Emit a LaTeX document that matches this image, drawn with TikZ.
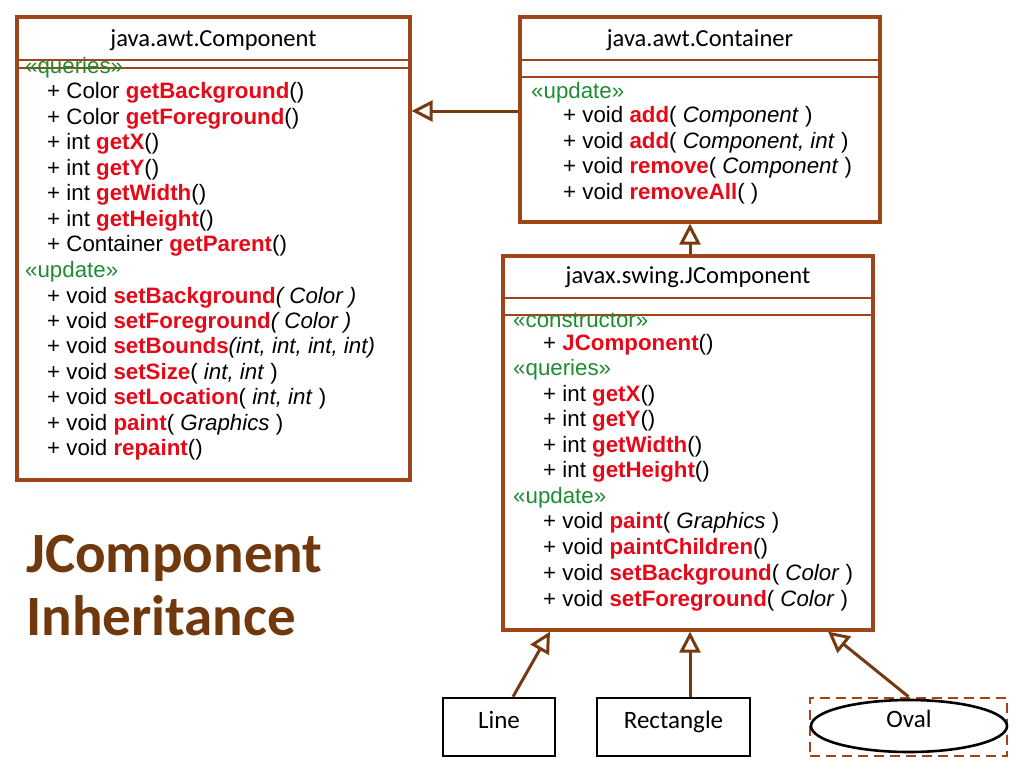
\documentclass[tikz,border=0pt]{standalone}
\usepackage{fontspec}
\setmainfont{Liberation Sans}
\newfontfamily\calib{Carlito}
\usetikzlibrary{arrows.meta,shapes.geometric}
\definecolor{umlbrown}{RGB}{158,70,26}
\definecolor{arrowbrown}{RGB}{118,58,18}
\definecolor{titlebrown}{RGB}{112,56,12}
\definecolor{stgreen}{RGB}{30,140,50}
\definecolor{opred}{RGB}{230,10,25}
\newcommand{\op}[1]{\textcolor{opred}{\textbf{#1}}}
\newcommand{\st}[1]{\textcolor{stgreen}{«#1»}}
\begin{document}
\begin{tikzpicture}
    [x=1pt,y=-1pt,
    umlbox/.style = {draw=umlbrown, line width=3.2pt, fill=white, inner sep=0pt},
    sep/.style = {draw=umlbrown, line width=1.4pt},
    member/.style = {anchor=west, inner sep=0pt, font=\fontsize{22.3}{22.3}\selectfont},
    header/.style = {inner sep=0pt, font=\calib\fontsize{24.5}{24.5}\selectfont},
    inherit/.style = {draw=arrowbrown, line width=3pt,
                      -{Triangle[open, length=21pt, width=21pt, fill=white]}},
    leaftext/.style = {font=\calib\fontsize{25}{25}\selectfont,
                       text height=10pt, text depth=7pt},
    leaf/.style = {leaftext, draw=black, line width=2.6pt, inner sep=0pt}]
    \useasboundingbox (0,0) rectangle (1024,768);
    % classes
    \node[umlbox, minimum width=393pt, minimum height=463pt] (comp) at (213.5,248.5) {};
    \node[umlbox, minimum width=360pt, minimum height=205pt] (cont) at (700,119.5) {};
    \node[umlbox, minimum width=370pt, minimum height=374pt] (jcomp) at (688,443) {};
    % java.awt.Component
    \node[header] (compname) at (213.5,40) {java.awt.Component};
    \draw[sep] (17,60) -- (410,60);
    \draw[sep] (17,68) -- (410,68);
    \node[member] (c1) at (25,68) {\st{queries}};
    \node[member] (c2) at (47,93) {+ Color \op{getBackground}()};
    \node[member] (c3) at (47,119) {+ Color \op{getForeground}()};
    \node[member] (c4) at (47,144) {+ int \op{getX}()};
    \node[member] (c5) at (47,170) {+ int \op{getY}()};
    \node[member] (c6) at (47,195) {+ int \op{getWidth}()};
    \node[member] (c7) at (47,221) {+ int \op{getHeight}()};
    \node[member] (c8) at (47,246) {+ Container \op{getParent}()};
    \node[member] (c9) at (25,272) {\st{update}};
    \node[member] (c10) at (47,298) {+ void \op{setBackground}\textit{( Color )}};
    \node[member] (c11) at (47,323) {+ void \op{setForeground}\textit{( Color )}};
    \node[member] (c12) at (47,348) {+ void \op{setBounds}\textit{(int, int, int, int)}};
    \node[member] (c13) at (47,374) {+ void \op{setSize}( \textit{int, int} )};
    \node[member] (c14) at (47,399) {+ void \op{setLocation}( \textit{int, int} )};
    \node[member] (c15) at (47,425) {+ void \op{paint}( \textit{Graphics} )};
    \node[member] (c16) at (47,450) {+ void \op{repaint}()};
    % java.awt.Container
    \node[header] (contname) at (700,40) {java.awt.Container};
    \draw[sep] (520,60) -- (880,60);
    \draw[sep] (520,77) -- (880,77);
    \node[member] (k1) at (531,93) {\st{update}};
    \node[member] (k2) at (563,117) {+ void \op{add}( \textit{Component} )};
    \node[member] (k3) at (563,143) {+ void \op{add}( \textit{Component, int} )};
    \node[member] (k4) at (563,168) {+ void \op{remove}( \textit{Component} )};
    \node[member] (k5) at (563,194) {+ void \op{removeAll}( )};
    % javax.swing.JComponent
    \node[header] (jcompname) at (688,277) {javax.swing.JComponent};
    \draw[sep] (503,298) -- (873,298);
    \draw[sep] (503,315) -- (873,315);
    \node[member] (j1) at (513,320) {\st{constructor}};
    \node[member] (j2) at (543,345) {+ \op{JComponent}()};
    \node[member] (j3) at (513,370) {\st{queries}};
    \node[member] (j4) at (543,396) {+ int \op{getX}()};
    \node[member] (j5) at (543,421) {+ int \op{getY}()};
    \node[member] (j6) at (543,447) {+ int \op{getWidth}()};
    \node[member] (j7) at (543,472) {+ int \op{getHeight}()};
    \node[member] (j8) at (513,498) {\st{update}};
    \node[member] (j9) at (543,523) {+ void \op{paint}( \textit{Graphics} )};
    \node[member] (j10) at (543,549) {+ void \op{paintChildren}()};
    \node[member] (j11) at (543,575) {+ void \op{setBackground}( \textit{Color} )};
    \node[member] (j12) at (543,601) {+ void \op{setForeground}( \textit{Color} )};
    % subclasses
    \node[leaf, minimum width=112pt, minimum height=58pt] (line) at (499,727) {Line};
    \node[leaf, minimum width=153pt, minimum height=58pt] (rect) at (673.5,727) {Rectangle};
    \node[draw=umlbrown, line width=2.6pt, dash pattern=on 10pt off 6pt,
          minimum width=197pt, minimum height=58pt] (oval) at (908.5,727) {};
    \node[leaftext, ellipse, draw=black, line width=2.6pt, minimum width=196pt,
          minimum height=52pt, inner sep=0pt] (ovalshape) at (909,726) {Oval};
    % title
    \node[anchor=west, align=left, inner sep=0pt, text=titlebrown,
          font=\calib\bfseries\fontsize{57}{63}\selectfont] (title) at (26,586) {JComponent\\Inheritance};
    % inheritance
    \coordinate (contarrow) at ([yshift=8.5pt]cont.west);
    \draw[inherit] (contarrow) -- (contarrow -| comp.east);
    \draw[inherit] (jcomp.north -| 690,0) -- (cont.south -| 690,0);
    \draw[inherit] ([xshift=14pt]line.north) -- ([xshift=-138pt]jcomp.south);
    \draw[inherit] (rect.north -| 690,0) -- (jcomp.south -| 690,0);
    \draw[inherit] (oval.north) -- ([xshift=140pt]jcomp.south);
\end{tikzpicture}
\end{document}
